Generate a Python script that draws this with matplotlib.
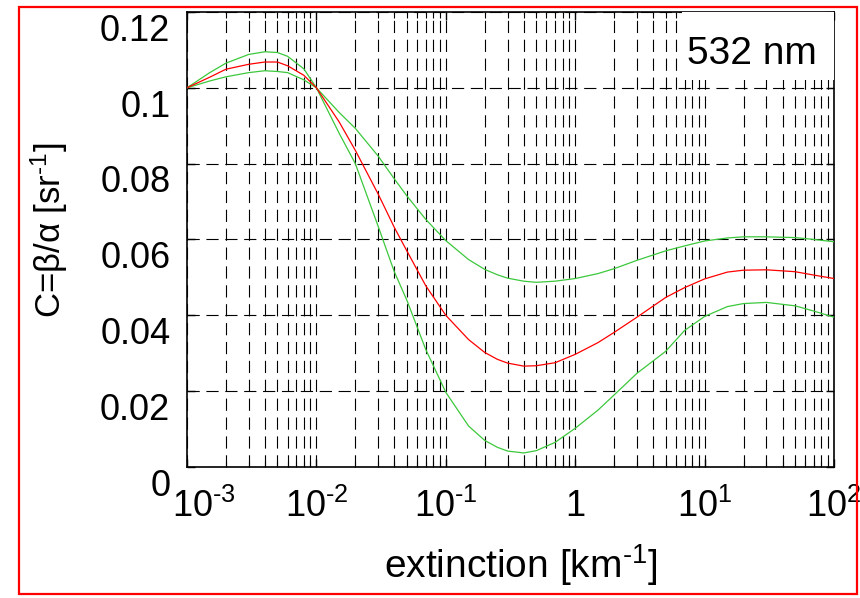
import matplotlib
matplotlib.use("Agg")
import matplotlib.pyplot as plt
import matplotlib.ticker as plticker
from matplotlib.patches import Rectangle
from matplotlib.transforms import ScaledTranslation

plt.rcParams["font.family"] = ["Liberation Sans", "DejaVu Sans"]
plt.rcParams["mathtext.fontset"] = "custom"
plt.rcParams["mathtext.rm"] = "Liberation Sans"
plt.rcParams["mathtext.it"] = "Liberation Sans:italic"

# extinction [km^-1]
extinction = [0.001, 0.0015, 0.002, 0.003, 0.004, 0.005, 0.006, 0.008, 0.01, 0.015,
              0.02, 0.03, 0.04, 0.05, 0.07, 0.1, 0.15, 0.2, 0.25, 0.3, 0.4,
              0.5, 0.7, 1, 1.5, 2, 3, 5, 7, 10, 15,
              20, 30, 50, 70, 100]

# C = beta/alpha [sr^-1]
c_mean = [0.1000, 0.1028, 0.1049, 0.1062, 0.1068, 0.1068, 0.1058, 0.1033, 0.1000, 0.0910,
          0.0835, 0.0720, 0.0632, 0.0570, 0.0478, 0.0400, 0.0336, 0.0302, 0.0284, 0.0274, 0.0266,
          0.0267, 0.0275, 0.0297, 0.0328, 0.0355, 0.0395, 0.0447, 0.0473, 0.0496, 0.0514,
          0.0519, 0.0520, 0.0515, 0.0506, 0.0497]
c_upper = [0.1000, 0.1040, 0.1065, 0.1088, 0.1095, 0.1093, 0.1083, 0.1050, 0.1000, 0.0935,
           0.0893, 0.0820, 0.0760, 0.0715, 0.0653, 0.0597, 0.0547, 0.0521, 0.0507, 0.0498, 0.0490,
           0.0487, 0.0490, 0.0497, 0.0510, 0.0523, 0.0545, 0.0570, 0.0583, 0.0596, 0.0604,
           0.0607, 0.0607, 0.0605, 0.0600, 0.0594]
c_lower = [0.1000, 0.1018, 0.1029, 0.1040, 0.1045, 0.1043, 0.1040, 0.1021, 0.1000, 0.0880,
           0.0800, 0.0635, 0.0515, 0.0440, 0.0310, 0.0197, 0.0108, 0.0070, 0.0052, 0.0042, 0.0037,
           0.0043, 0.0065, 0.0102, 0.0150, 0.0190, 0.0247, 0.0305, 0.0360, 0.0397, 0.0423,
           0.0431, 0.0434, 0.0425, 0.0411, 0.0395]

yticks = [0, 0.02, 0.04, 0.06, 0.08, 0.1, 0.12]
ytick_labels = ["0", "0.02", "0.04", "0.06", "0.08", "0.1", "0.12"]
xticks = [1e-3, 1e-2, 1e-1, 1, 1e1, 1e2]
xtick_labels = [r"$\mathregular{10^{\text{-}3}}$", r"$\mathregular{10^{\text{-}2}}$",
                r"$\mathregular{10^{\text{-}1}}$", "1",
                r"$\mathregular{10^{1}}$", r"$\mathregular{10^{2}}$"]

fig = plt.figure(figsize=(8.6, 5.98), dpi=100)
ax = fig.add_axes([0.2174, 0.2191, 0.7524, 0.7609])

ax.plot(extinction, c_upper, color="#3cc83c", lw=0.9, zorder=3)
ax.plot(extinction, c_lower, color="#3cc83c", lw=0.9, zorder=3)
ax.plot(extinction, c_mean, color="#ff0000", lw=0.9, zorder=4)

ax.set_xscale("log")
ax.set_xlim(1e-3, 1e2)
ax.set_ylim(0, 0.12)

ax.set_xticks(xticks)
ax.set_xticklabels(xtick_labels)
ax.xaxis.set_minor_locator(plticker.LogLocator(base=10, subs=range(2, 10), numticks=20))
ax.xaxis.set_minor_formatter(plticker.NullFormatter())
ax.set_yticks(yticks)
ax.set_yticklabels(ytick_labels)

dash = (0, (11, 6))
ax.grid(True, which="major", axis="both", color="black", lw=0.8, linestyle=dash)
ax.grid(True, which="minor", axis="x", color="black", lw=0.8, linestyle=dash)
ax.set_axisbelow(True)

ax.tick_params(which="both", direction="in", top=True, right=True, color="black")
ax.tick_params(which="major", length=6, width=1)
ax.tick_params(which="minor", length=4, width=0.8)
ax.tick_params(axis="y", labelsize=26, pad=12)
ax.tick_params(axis="x", labelsize=26, pad=16)
for sp in ax.spines.values():
    sp.set_linewidth(1.2)

# MATLAB-style label placement: y labels sit a bit low
shift_down = ScaledTranslation(0, -11 / 72, fig.dpi_scale_trans)
for lbl in ax.get_yticklabels():
    lbl.set_transform(lbl.get_transform() + shift_down)
first = ax.get_xticklabels()[0]
first.set_transform(first.get_transform() + ScaledTranslation(12 / 72, 0, fig.dpi_scale_trans))

ax.set_ylabel(r"C=β/α [sr$^{\mathregular{\text{-}1}}$]", fontsize=25)
ax.yaxis.set_label_coords(-0.18, 0.52)
ax.set_xlabel(r"extinction [km$^{\mathregular{\text{-}1}}$]", fontsize=28)
ax.xaxis.set_label_coords(0.515, -0.165)

# "532 nm" box in the upper right corner
ax.add_patch(Rectangle((0.765, 0.851), 0.235, 0.149, transform=ax.transAxes,
                       facecolor="white", edgecolor="none", zorder=5))
ax.text(0.873, 0.908, "532 nm", transform=ax.transAxes, fontsize=28,
        ha="center", va="center", zorder=6)

# red frame around the whole figure
fig.patches.append(Rectangle((0.0221, 0.006), 0.9744, 0.982, transform=fig.transFigure,
                             fill=False, edgecolor="#ff0000", lw=1.6))

fig.savefig("out.png", dpi=100)
